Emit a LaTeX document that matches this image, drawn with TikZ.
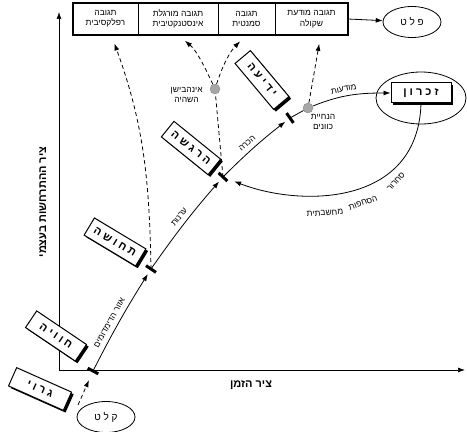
\documentclass[tikz,border=0pt]{standalone}
\usepackage{fontspec}
\setmainfont{Liberation Sans}
\newfontfamily\hebfont[Script=Hebrew]{Liberation Sans}
\TeXXeTstate=1
\newcommand{\heb}[1]{{\hebfont\beginR #1\endR}}
\usepackage{tikz}
\usetikzlibrary{shapes, arrows.meta, positioning, shadows}

\begin{document}
\begin{tikzpicture}[
    x=1pt, y=1pt,
    >={Latex[length=7pt, width=5pt]},
    stage/.style={
      rectangle, draw, line width=1pt, fill=white,
      font=\fontsize{11}{13}\selectfont\bfseries,
      minimum width=60pt, minimum height=20pt, inner sep=0pt,
      drop shadow={shadow xshift=2.2pt, shadow yshift=-2.2pt, fill=black, opacity=1}
    },
    cell/.style={
      rectangle, draw, line width=0.6pt,
      font=\fontsize{8.5}{10.5}\selectfont,
      minimum height=32pt, inner sep=0pt, outer sep=0pt, align=center
    },
    io/.style={
      ellipse, draw, line width=0.8pt,
      font=\fontsize{10}{12}\selectfont,
      minimum width=58pt, minimum height=31pt, inner sep=0pt
    },
    dot/.style={circle, draw=gray!90, fill=gray!70, minimum size=10pt, inner sep=0pt},
    tick/.style={rectangle, fill=black, minimum width=3pt, minimum height=12pt, inner sep=0pt},
    flow/.style={->, line width=0.8pt},
    dashflow/.style={->, line width=0.8pt, dash pattern=on 4pt off 3pt, shorten >=9pt},
    dashline/.style={line width=0.8pt, dash pattern=on 4pt off 3pt},
    axis/.style={->, line width=0.7pt},
    curvelbl/.style={font=\fontsize{8.5}{10}\selectfont, inner sep=0pt},
    note/.style={font=\fontsize{8.5}{10}\selectfont, align=center, inner sep=0pt},
    axislbl/.style={font=\fontsize{11}{13}\selectfont\bfseries}
  ]

    \useasboundingbox (0,0) rectangle (467,432);

    % ── Axes ──────────────────────────────────────────────────────────────
    \coordinate (origin) at (59, 62);
    \coordinate (yend) at (59, 420);
    \coordinate (xend) at (465, 62);
    \draw[axis] (origin) -- (yend);
    \draw[axis] (origin) -- (xend);
    \node[axislbl, rotate=90] (ylbl) at (43, 230) {\heb{ציר ההתרחשות בעצמי}};
    \node[axislbl] (xlbl) at (251, 47) {\heb{ציר הזמן}};

    % ── Response row (top) ────────────────────────────────────────────────
    \node[cell, minimum width=65pt] (r_reflex) at (105.5, 413) {\heb{תגובה}\\\heb{רפלקסיבית}};
    \node[cell, minimum width=80pt, right=0pt of r_reflex] (r_habit) {\heb{תגובה מורגלת}\\\heb{אינסטנקטיבית}};
    \node[cell, minimum width=57pt, right=0pt of r_habit] (r_semantic) {\heb{תגובה}\\\heb{סמנטית}};
    \node[cell, minimum width=73pt, right=0pt of r_semantic] (r_aware) {\heb{תגובה מודעת}\\\heb{שקולה}};
    \draw[line width=2pt] (r_reflex.north west) rectangle (r_aware.south east);

    % ── Input / output ────────────────────────────────────────────────────
    \node[io] (output) at (412, 410) {\heb{פ ל ט}};
    \node[io] (input) at (106, 15) {\heb{ק ל ט}};
    \draw[flow] (r_aware.east) -- (output);

    % ── Stages along the trajectory ───────────────────────────────────────
    \node[stage, rotate=-24] (s_stim)  at (40, 43)   {\heb{ג ר ו י}};
    \node[stage, rotate=-34] (s_exper) at (56, 96)   {\heb{ח ו ו י ה}};
    \node[stage, rotate=-31] (s_sense) at (115, 190) {\heb{ת ח ו ש ה}};
    \node[stage, rotate=-39] (s_feel)  at (191, 284) {\heb{ה ר ג ש ה}};
    \node[stage, rotate=-50] (s_know)  at (262, 352) {\heb{י ד י ע ה}};
    \node[stage] (s_memory) at (421, 339) {\heb{ז כ ר ו ן}};
    \node[ellipse, draw, line width=0.8pt, minimum width=90pt, minimum height=52pt] (mem_ring) at (421, 334) {};

    % ── Trajectory points ─────────────────────────────────────────────────
    \coordinate (start) at (78, 27);
    \coordinate (c1) at (93, 61);
    \coordinate (c2) at (151, 163);
    \coordinate (c3) at (223, 255);
    \coordinate (c4) at (290, 314);
    \node[dot] (guide) at (308, 324) {};
    \node[dot] (inhib) at (215, 343) {};

    % ── Trajectory ────────────────────────────────────────────────────────
    \draw[dashflow, shorten >=10pt] (start) -- (c1);
    \draw[flow, shorten >=6pt] (c1) to[out=63, in=238]
      node[curvelbl, sloped, above=5pt, pos=0.42] (l_dusk) {\heb{אזור הדימדומים}} (c2);
    \draw[flow, shorten >=6pt] (c2) to[out=55, in=229]
      node[curvelbl, sloped, above=5pt, pos=0.5] (l_alert) {\heb{ערנות}} (c3);
    \draw[flow, shorten >=6pt] (c3) to[out=45, in=218]
      node[curvelbl, sloped, above=5pt, pos=0.45] (l_recog) {\heb{הכרה}} (c4);
    \draw[line width=0.8pt] (c4) -- (guide);
    \draw[flow] (guide) to[out=22, in=180]
      node[curvelbl, sloped, above=4pt, pos=0.42] (l_aware) {\heb{מודעות}} (s_memory.west);

    % ── Ticks ─────────────────────────────────────────────────────────────
    \node[tick, rotate=62] (t1) at (c1) {};
    \node[tick, rotate=56] (t2) at (c2) {};
    \node[tick, rotate=47] (t3) at (c3) {};
    \node[tick, rotate=35] (t4) at (c4) {};

    % ── Dashed branches to the responses ──────────────────────────────────
    \draw[dashflow] (c2) to[out=91, in=-70] (r_reflex.290);
    \draw[dashline] (c3) -- (inhib);
    \draw[dashflow] (inhib) to[out=115, in=-40] (r_habit.south);
    \draw[dashflow] (inhib) to[out=72, in=-135] (r_semantic.south);
    \draw[dashflow] (guide) -- (r_aware.300);

    % ── Notes at the branch points ────────────────────────────────────────
    \node[note, left=7pt of inhib, yshift=-6pt] (inhib_lbl) {\heb{אינהבישן}\\\heb{השהיה}};
    \node[note, below=1pt of guide, xshift=15pt] (guide_lbl) {\heb{הנחיית}\\\heb{כוונים}};

    % ── Loop back from memory ─────────────────────────────────────────────
    \draw[flow, shorten >=12pt] (s_memory.south) .. controls (418,225) and (300,225) .. (c3);
    \node[curvelbl, rotate=4]  (w_thought) at (325, 219) {\heb{מחשבתית}};
    \node[curvelbl, rotate=20] (w_sweep)   at (363, 229) {\heb{הסחפות}};
    \node[curvelbl, rotate=48] (w_spin)    at (396, 250) {\heb{סחרור}};

  \end{tikzpicture}
\end{document}
